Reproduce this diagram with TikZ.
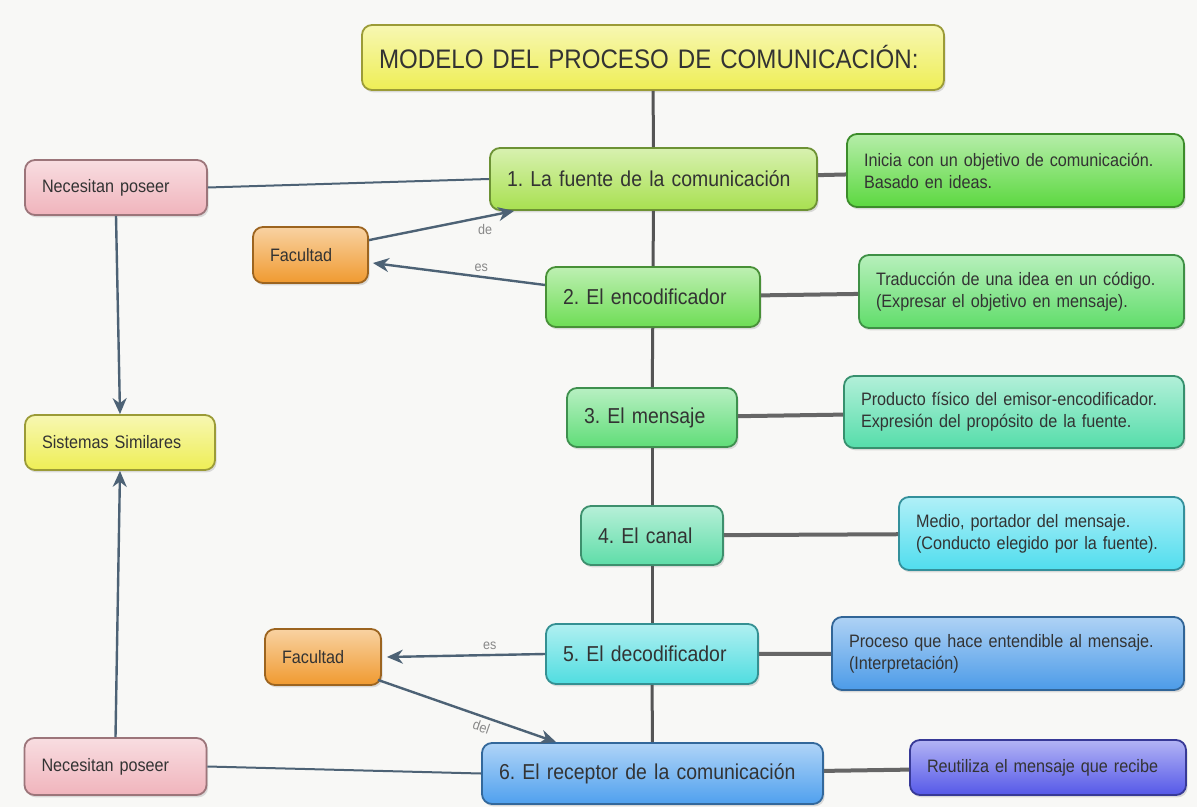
\documentclass[tikz,border=0pt]{standalone}
\usepackage{fontspec}
\setmainfont{Liberation Sans}[FakeStretch=0.9]
\usetikzlibrary{shadows,arrows.meta,calc}
\frenchspacing
\definecolor{bgc}{HTML}{F8F8F6}
\definecolor{txt}{HTML}{333333}
\definecolor{cTitle}{HTML}{EEEE55}
\definecolor{cN1}{HTML}{A8E050}
\definecolor{cR1}{HTML}{5CD840}
\definecolor{cN2}{HTML}{6EDD55}
\definecolor{cR2}{HTML}{60DD6A}
\definecolor{cN3}{HTML}{60DD78}
\definecolor{cR3}{HTML}{55DDAA}
\definecolor{cN4}{HTML}{5EDDA8}
\definecolor{cR4}{HTML}{50DDEE}
\definecolor{cN5}{HTML}{50DDE0}
\definecolor{cR5}{HTML}{4C9BE8}
\definecolor{cN6}{HTML}{4FA0EE}
\definecolor{cR6}{HTML}{5558E8}
\definecolor{cPink}{HTML}{F0B4BC}
\definecolor{cOrange}{HTML}{F09A30}
\definecolor{cLine}{HTML}{555555}
\definecolor{cArr}{HTML}{4D6275}
\definecolor{cLbl}{HTML}{888888}
\tikzset{
  box/.style={rounded corners=5pt, line width=0.9pt, align=left, inner xsep=8.5pt, inner ysep=1pt,
    text=txt, top color=#1!45!white, bottom color=#1, draw=#1!65!black,
    drop shadow={opacity=0.25, shadow xshift=0.8pt, shadow yshift=-1.2pt}},
  dims/.style 2 args={text width=#1, minimum height=#2},
  titlef/.style={font=\fontsize{13.4}{16}\selectfont},
  mainf/.style={font=\fontsize{10.8}{13}\selectfont},
  descf/.style={font=\fontsize{9}{11}\selectfont},
  smallf/.style={font=\fontsize{9}{11}\selectfont},
  trunk/.style={draw=cLine, line width=1.5pt},
  branch/.style={draw=cLine!90!white, line width=2pt},
  link/.style={draw=cArr, line width=1pt},
  arr/.style={draw=cArr, line width=1.2pt, -{Stealth[length=8pt,width=7pt]}},
  lbl/.style={text=cLbl, font=\fontsize{7}{8}\selectfont, inner sep=1pt},
}
\begin{document}
\begin{tikzpicture}[x=0.5pt,y=-0.5pt]
\fill[bgc] (0,0) rectangle (1197,807);
\useasboundingbox (0,0) rectangle (1197,807);

% main chain
\node[box=cTitle, titlef, dims={274pt}{32.5pt}] (title) at (653,57.5) {MODELO DEL PROCESO DE COMUNICACIÓN:};
\node[box=cN1, mainf, dims={146.5pt}{31pt}] (n1) at (653.5,179) {1. La fuente de la comunicación};
\node[box=cN2, mainf, dims={90pt}{30pt}] (n2) at (653,297) {2. El encodificador};
\node[box=cN3, mainf, dims={68pt}{29.5pt}] (n3) at (652,417.5) {3. El mensaje};
\node[box=cN4, mainf, dims={54pt}{29.5pt}] (n4) at (652,535.5) {4. El canal};
\node[box=cN5, mainf, dims={89pt}{30pt}] (n5) at (652,654) {5. El decodificador};
\node[box=cN6, mainf, dims={153.5pt}{30.5pt}] (n6) at (652.5,773.5) {6. El receptor de la comunicación};

% descriptions
\node[box=cR1, descf, dims={151.5pt}{36.5pt}] (r1) at (1015.5,170.5) {Inicia con un objetivo de comunicación.\\Basado en ideas.};
\node[box=cR2, descf, dims={145.5pt}{36.5pt}] (r2) at (1021.5,291.5) {Traducción de una idea en un código.\\(Expresar el objetivo en mensaje).};
\node[box=cR3, descf, dims={153pt}{36pt}] (r3) at (1014,412) {Producto físico del emisor-encodificador.\\Expresión del propósito de la fuente.};
\node[box=cR4, descf, dims={125.5pt}{36.5pt}] (r4) at (1041.5,533.5) {Medio, portador del mensaje.\\(Conducto elegido por la fuente).};
\node[box=cR5, descf, dims={159pt}{36.5pt}] (r5) at (1008,653.5) {Proceso que hace entendible al mensaje.\\(Interpretación)};
\node[box=cR6, descf, dims={121pt}{27.5pt}] (r6) at (1048,767.5) {Reutiliza el mensaje que recibe};

% left side
\node[box=cPink, smallf, dims={74pt}{27.5pt}] (np1) at (116,187.5) {Necesitan poseer};
\node[box=cOrange, smallf, dims={40.5pt}{28pt}] (fac1) at (310.5,255) {Facultad};
\node[box=cTitle, smallf, dims={78pt}{27.5pt}] (sis) at (120,442.5) {Sistemas Similares};
\node[box=cOrange, smallf, dims={41pt}{28pt}] (fac2) at (323,657) {Facultad};
\node[box=cPink, smallf, dims={74pt}{28.5pt}] (np2) at (115.5,766.5) {Necesitan poseer};

% trunk
\draw[trunk] (title) -- (n1);
\draw[trunk] (n1) -- (n2);
\draw[trunk] (n2) -- (n3);
\draw[trunk] (n3) -- (n4);
\draw[trunk] (n4) -- (n5);
\draw[trunk] (n5) -- (n6);

% branches
\draw[branch] (n1) -- (r1);
\draw[branch] (n2) -- (r2);
\draw[branch] (n3) -- (r3);
\draw[branch] (n4) -- (r4);
\draw[branch] (n5) -- (r5);
\draw[branch] (n6) -- (r6);

% links and arrows
\draw[link] (np1.east) -- (n1.west);
\draw[link] (np2.east) -- (n6.west);
\draw[arr] (np1.south) -- (sis.north);
\draw[arr] (np2.north) -- (sis.south);
\draw[arr] ($(fac1.north east)+(0,14)$) -- node[lbl, pos=0.8, below=2pt] {de} ($(n1.south west)+(25,0)$);
\draw[arr] ($(n2.west)+(0,-12)$) -- node[lbl, pos=0.37, above=1pt] {es} ($(fac1.east)+(4,8)$);
\draw[arr] (n5.west) -- node[lbl, pos=0.35, above=1pt] {es} ($(fac2.east)+(5,0)$);
\draw[arr] ($(fac2.south east)+(-4,-6)$) -- node[lbl, pos=0.6, sloped, below=1pt] {del} ($(n6.north west)+(75,0)$);
\end{tikzpicture}
\end{document}
